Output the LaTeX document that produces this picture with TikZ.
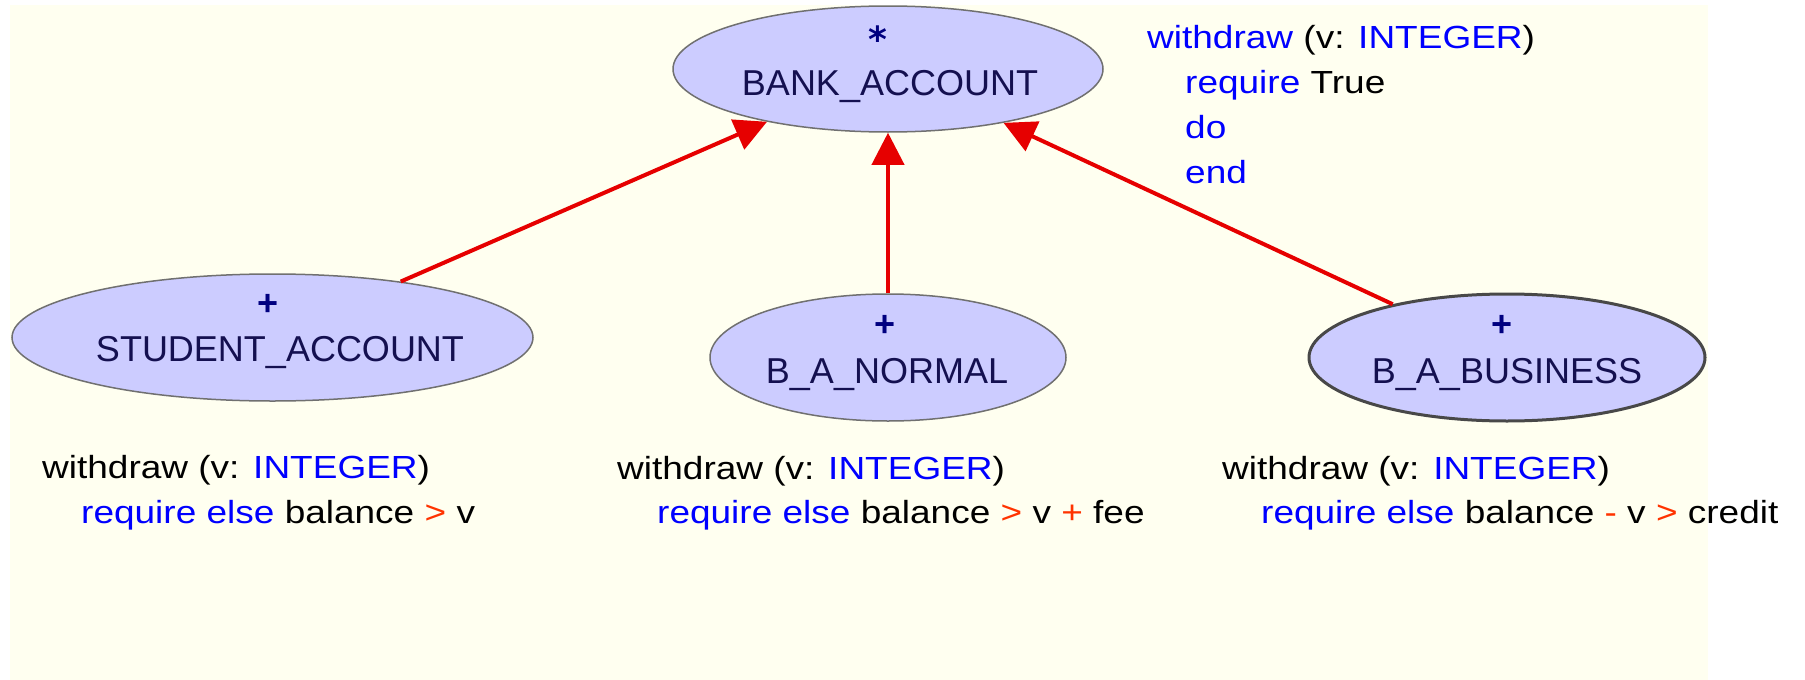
\documentclass[tikz,border=0pt]{standalone}
\usepackage{fontspec}
\setmainfont{Liberation Sans}
\newfontfamily\annfont[FakeStretch=1.156]{Liberation Sans}
\newfontfamily\markfont{DejaVu Sans}
\usetikzlibrary{shapes.geometric,arrows.meta}
\definecolor{bgcream}{RGB}{255,255,240}
\definecolor{nodefill}{RGB}{204,204,255}
\definecolor{nodeline}{RGB}{112,112,112}
\definecolor{darkline}{RGB}{72,72,72}
\definecolor{labelnavy}{RGB}{20,16,80}
\definecolor{marknavy}{RGB}{0,0,128}
\definecolor{kwblue}{RGB}{0,0,255}
\definecolor{opred}{RGB}{255,51,0}
\definecolor{arrowred}{RGB}{230,0,0}
\newcommand\kwd[1]{\textcolor{kwblue}{#1}}
\newcommand\opr[1]{\textcolor{opred}{#1}}
\begin{document}
\begin{tikzpicture}[x=1pt,y=-1pt,
  cls/.style={ellipse, draw=nodeline, line width=1.5pt, fill=nodefill, inner sep=0pt},
  clsname/.style={anchor=base, inner sep=0pt, text=labelnavy, font=\fontsize{36}{40}\selectfont},
  clsmark/.style={anchor=base, inner sep=0pt, text=marknavy, font=\fontsize{36}{40}\selectfont\bfseries},
  ann/.style={anchor=base west, inner sep=0pt, font=\annfont\fontsize{32}{40}\selectfont},
  inherit/.style={draw=arrowred, line width=4pt, -{Triangle[length=32pt,width=32pt]}}
]
\useasboundingbox (0,0) rectangle (1805,680);
\fill[white] (0,0) rectangle (1805,680);
\fill[bgcream] (10,5) rectangle (1708,680);

% class ellipses
\node[cls, minimum width=430pt, minimum height=126pt] (bank) at (888,69) {};
\node[cls, minimum width=521pt, minimum height=127pt] (student) at (272.5,337.5) {};
\node[cls, minimum width=356pt, minimum height=127pt] (normal) at (888,357.5) {};
\node[cls, draw=darkline, line width=3pt, minimum width=396pt, minimum height=127pt] (business) at (1507,357.5) {};

% class labels
\node[clsmark, font=\markfont\fontsize{36}{40}\selectfont\bfseries] (bankmark) at (878,52) {*};
\node[clsname] (bankname) at (890,95) {BANK\_ACCOUNT};
\node[clsmark] (studentmark) at (268,315) {+};
\node[clsname] (studentname) at (280,361) {STUDENT\_ACCOUNT};
\node[clsmark] (normalmark) at (885,336) {+};
\node[clsname] (normalname) at (887,383) {B\_A\_NORMAL};
\node[clsmark] (businessmark) at (1502,336) {+};
\node[clsname] (businessname) at (1507,383) {B\_A\_BUSINESS};

% inheritance arrows
\draw[inherit] (student) -- (bank);
\draw[inherit] (normal) -- (bank);
\draw[inherit] (business) -- (bank);

% annotations
\node[ann] (t1) at (1147,48) {\kwd{withdraw} (v: \kwd{INTEGER})};
\node[ann] (t2) at (1185,93) {\kwd{require} True};
\node[ann] (t3) at (1185,138) {\kwd{do}};
\node[ann] (t4) at (1185,183) {\kwd{end}};

\node[ann] (s1) at (42,478) {withdraw (v: \kwd{INTEGER})};
\node[ann] (s2) at (81,523) {\kwd{require else} balance \opr{>} v};

\node[ann] (n1) at (617,479) {withdraw (v: \kwd{INTEGER})};
\node[ann] (n2) at (657,523) {\kwd{require else} balance \opr{>} v \opr{+} fee};

\node[ann] (b1) at (1222,479) {withdraw (v: \kwd{INTEGER})};
\node[ann] (b2) at (1261,523) {\kwd{require else} balance \opr{-} v \opr{>} credit};
\end{tikzpicture}
\end{document}
